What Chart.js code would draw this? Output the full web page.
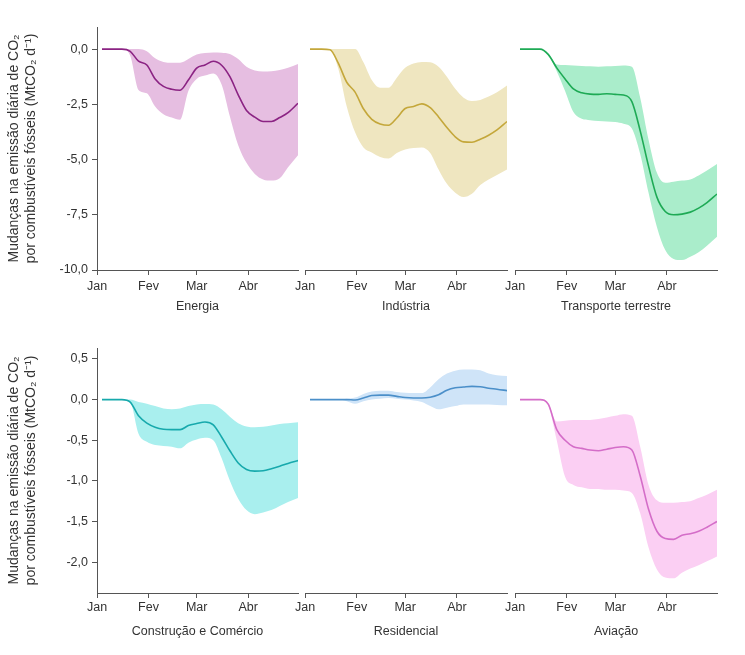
<!DOCTYPE html>
<html>
<head>
<meta charset="utf-8">
<script src="https://cdn.jsdelivr.net/npm/chart.js@4.4.0/dist/chart.umd.min.js"></script>
<style>
    body { margin: 0; background: #fff; }
    #wrap { position: relative; width: 745px; height: 655px; }
    canvas { position: absolute; }
</style>
</head>
<body>
<div id="wrap">
    <canvas id="energia"></canvas>
    <canvas id="industria"></canvas>
    <canvas id="transporte"></canvas>
    <canvas id="construcao"></canvas>
    <canvas id="residencial"></canvas>
    <canvas id="aviacao"></canvas>
</div>
<script>
'use strict';

// days since 1 Jan 2020
const days        = [3, 10, 15, 20, 25, 30, 35, 40, 45, 50, 55, 60, 65, 70, 75, 80, 85, 90, 95, 100, 105, 110, 115, 121];
const monthDays   = [0, 31, 60, 91];
const monthLabels = ['Jan', 'Fev', 'Mar', 'Abr'];
const yTicksTop    = [0, -2.5, -5, -7.5, -10];
const yTicksBottom = [0.5, 0, -0.5, -1, -1.5, -2];
const yTitle = ['Mudanças na emissão diária de CO₂', 'por combustíveis fósseis (MtCO₂ d⁻¹)'];

const energiaLine  = [0, 0, 0, -0.1, -0.55, -0.72, -1.35, -1.69, -1.82, -1.86, -1.4, -0.86, -0.72, -0.55, -0.73, -1.25, -2.07, -2.78, -3.08, -3.28, -3.28, -3.1, -2.88, -2.45];
const energiaUpper = [0, 0, 0, 0, 0, -0.1, -0.42, -0.58, -0.62, -0.62, -0.45, -0.25, -0.18, -0.15, -0.16, -0.22, -0.45, -0.8, -0.97, -1.02, -1.0, -0.95, -0.85, -0.67];
const energiaLower = [0, 0, 0, -0.3, -1.85, -2.0, -2.6, -2.95, -3.1, -3.2, -1.9, -1.35, -1.2, -1.1, -1.6, -3.05, -4.35, -5.15, -5.65, -5.9, -5.95, -5.85, -5.35, -4.8];

const industriaLine  = [0, 0, -0.03, -0.65, -1.5, -1.95, -2.7, -3.18, -3.39, -3.45, -3.12, -2.69, -2.6, -2.48, -2.65, -3.07, -3.55, -3.97, -4.2, -4.22, -4.08, -3.9, -3.66, -3.28];
const industriaUpper = [0, 0, 0, 0, 0, 0, -0.6, -1.4, -1.75, -1.75, -1.3, -0.85, -0.65, -0.58, -0.6, -0.8, -1.25, -1.8, -2.2, -2.35, -2.3, -2.15, -1.95, -1.65];
const industriaLower = [0, 0, -0.03, -0.9, -2.6, -3.77, -4.45, -4.68, -4.88, -4.95, -4.7, -4.55, -4.48, -4.45, -4.7, -5.45, -6.1, -6.5, -6.7, -6.55, -6.15, -5.9, -5.7, -5.45];

const transporteLine  = [0, 0, 0, -0.25, -0.85, -1.35, -1.8, -1.98, -2.04, -2.05, -2.02, -2.05, -2.08, -2.38, -3.7, -5.3, -6.7, -7.35, -7.5, -7.47, -7.38, -7.2, -6.95, -6.56];
const transporteUpper = [0, 0, 0, -0.2, -0.7, -0.72, -0.74, -0.76, -0.78, -0.8, -0.78, -0.76, -0.74, -0.8, -2.2, -4.1, -5.6, -6.05, -6.0, -5.95, -5.9, -5.72, -5.5, -5.2];
const transporteLower = [0, 0, 0, -0.28, -1.0, -1.9, -2.85, -3.15, -3.22, -3.25, -3.28, -3.3, -3.38, -3.6, -4.75, -6.5, -8.05, -9.1, -9.5, -9.55, -9.4, -9.2, -8.9, -8.5];

const construcaoLine  = [0, 0, 0, -0.03, -0.2, -0.29, -0.34, -0.365, -0.37, -0.37, -0.32, -0.295, -0.275, -0.31, -0.46, -0.63, -0.78, -0.86, -0.88, -0.875, -0.85, -0.82, -0.785, -0.75];
const construcaoUpper = [0, 0, 0, 0, -0.03, -0.05, -0.08, -0.11, -0.12, -0.11, -0.08, -0.06, -0.055, -0.06, -0.12, -0.21, -0.29, -0.33, -0.34, -0.335, -0.32, -0.3, -0.29, -0.28];
const construcaoLower = [0, 0, 0, -0.03, -0.42, -0.52, -0.56, -0.57, -0.58, -0.6, -0.53, -0.49, -0.47, -0.5, -0.72, -1.0, -1.22, -1.36, -1.41, -1.39, -1.36, -1.31, -1.26, -1.21];

const residencialLine  = [0, 0, 0, 0, 0, -0.005, 0.02, 0.05, 0.055, 0.055, 0.04, 0.025, 0.02, 0.02, 0.03, 0.06, 0.115, 0.145, 0.155, 0.163, 0.158, 0.14, 0.128, 0.11];
const residencialUpper = [0, 0, 0, 0, 0.01, 0.025, 0.07, 0.1, 0.11, 0.11, 0.095, 0.085, 0.08, 0.08, 0.15, 0.25, 0.32, 0.355, 0.37, 0.37, 0.36, 0.32, 0.3, 0.29];
const residencialLower = [0, 0, 0, 0, -0.02, -0.05, -0.02, 0, 0.01, 0.02, 0.01, 0, -0.01, -0.03, -0.08, -0.12, -0.1, -0.08, -0.06, -0.06, -0.06, -0.06, -0.065, -0.07];

const aviacaoLine  = [0, 0, 0, -0.06, -0.37, -0.5, -0.58, -0.6, -0.62, -0.63, -0.61, -0.59, -0.58, -0.62, -0.94, -1.35, -1.62, -1.71, -1.72, -1.67, -1.65, -1.62, -1.57, -1.5];
const aviacaoUpper = [0, 0, 0, -0.05, -0.27, -0.26, -0.25, -0.25, -0.25, -0.24, -0.22, -0.2, -0.18, -0.2, -0.58, -1.05, -1.24, -1.27, -1.27, -1.26, -1.25, -1.21, -1.17, -1.11];
const aviacaoLower = [0, 0, 0, -0.08, -0.5, -0.95, -1.05, -1.08, -1.1, -1.1, -1.11, -1.11, -1.12, -1.15, -1.4, -1.82, -2.09, -2.19, -2.2, -2.13, -2.08, -2.04, -1.99, -1.93];

Chart.defaults.font.family = "'Liberation Sans', Arial, sans-serif";
Chart.defaults.color = '#333';

const AXIS = '#555';

function points(vals) {
    return days.map((d, i) => ({x: d, y: vals[i]}));
}

function comma(v) {
    return v.toFixed(1).replace('.', ',');
}

function drawPanel(p) {
    const canvas = document.getElementById(p.id);
    canvas.width  = p.w;
    canvas.height = p.h;
    canvas.style.left = p.x + 'px';
    canvas.style.top  = p.y + 'px';

    const band = {
        borderColor: 'rgba(0,0,0,0)',
        borderWidth: 0,
        pointRadius: 0,
        cubicInterpolationMode: 'monotone'
    };

    new Chart(canvas, {
        type: 'line',
        data: {
            datasets: [
                {
                    data: points(p.line),
                    borderColor: p.stroke,
                    borderWidth: 1.6,
                    pointRadius: 0,
                    fill: false,
                    cubicInterpolationMode: 'monotone'
                },
                Object.assign({data: points(p.lower), fill: false}, band),
                Object.assign({data: points(p.upper), fill: '-1', backgroundColor: p.band}, band)
            ]
        },
        options: {
            responsive: false,
            animation: false,
            layout: {padding: p.pad},
            plugins: {legend: {display: false}, tooltip: {enabled: false}},
            scales: {
                x: {
                    type: 'linear',
                    min: 0,
                    max: 121,
                    afterBuildTicks: s => { s.ticks = monthDays.map(v => ({value: v})); },
                    afterFit: s => { s.height = p.xH; },
                    ticks: {
                        callback: v => monthLabels[monthDays.indexOf(v)],
                        padding: p.tickPad,
                        maxRotation: 0,
                        autoSkip: false,
                        font: {size: 12.5}
                    },
                    grid: {drawOnChartArea: false, tickLength: 5, color: AXIS},
                    border: {display: true, color: AXIS},
                    title: {
                        display: true,
                        text: p.title,
                        font: {size: 12.5},
                        padding: {top: 0, bottom: p.titlePad}
                    }
                },
                y: {
                    display: p.showY,
                    min: p.yMin,
                    max: p.yMax,
                    afterBuildTicks: s => { s.ticks = p.yTicks.map(v => ({value: v})); },
                    afterFit: s => { s.width = p.showY ? 97 : 0; },
                    ticks: {callback: v => comma(v), padding: 4, font: {size: 12.5}},
                    grid: {drawOnChartArea: false, tickLength: 5, color: AXIS},
                    border: {display: true, color: AXIS},
                    title: {
                        display: true,
                        text: yTitle,
                        font: {size: 14},
                        padding: {top: 6, bottom: 0}
                    }
                }
            }
        }
    });
}

const top1 = {y: 0,   h: 320, xH: 50, titlePad: 5.5,  tickPad: 4,   yMin: -10,  yMax: 1,    yTicks: yTicksTop};
const bot1 = {y: 320, h: 330, xH: 57, titlePad: 10.5, tickPad: 2.5, yMin: -2.38, yMax: 0.635, yTicks: yTicksBottom};

drawPanel(Object.assign({}, top1, {id: 'energia', x: 0, w: 300, showY: true,
    pad: {top: 27, right: 2, bottom: 0, left: 0},
    title: 'Energia', stroke: '#8B2383', band: '#E6BEE1',
    line: energiaLine, upper: energiaUpper, lower: energiaLower}));
drawPanel(Object.assign({}, top1, {id: 'industria', x: 290, w: 220, showY: false,
    pad: {top: 27, right: 3, bottom: 0, left: 15},
    title: 'Indústria', stroke: '#C4A73A', band: '#EFE6C0',
    line: industriaLine, upper: industriaUpper, lower: industriaLower}));
drawPanel(Object.assign({}, top1, {id: 'transporte', x: 500, w: 222, showY: false,
    pad: {top: 27, right: 5, bottom: 0, left: 15},
    title: 'Transporte terrestre', stroke: '#1EAA55', band: '#AAEDCB',
    line: transporteLine, upper: transporteUpper, lower: transporteLower}));

drawPanel(Object.assign({}, bot1, {id: 'construcao', x: 0, w: 300, showY: true,
    pad: {top: 28, right: 2, bottom: 0, left: 0},
    title: 'Construção e Comércio', stroke: '#17A9AC', band: '#A9EFEE',
    line: construcaoLine, upper: construcaoUpper, lower: construcaoLower}));
drawPanel(Object.assign({}, bot1, {id: 'residencial', x: 290, w: 220, showY: false,
    pad: {top: 28, right: 3, bottom: 0, left: 15},
    title: 'Residencial', stroke: '#4B8FC9', band: '#CFE4F8',
    line: residencialLine, upper: residencialUpper, lower: residencialLower}));
drawPanel(Object.assign({}, bot1, {id: 'aviacao', x: 500, w: 222, showY: false,
    pad: {top: 28, right: 5, bottom: 0, left: 15},
    title: 'Aviação', stroke: '#D46DC8', band: '#FBCFF3',
    line: aviacaoLine, upper: aviacaoUpper, lower: aviacaoLower}));
</script>
</body>
</html>
